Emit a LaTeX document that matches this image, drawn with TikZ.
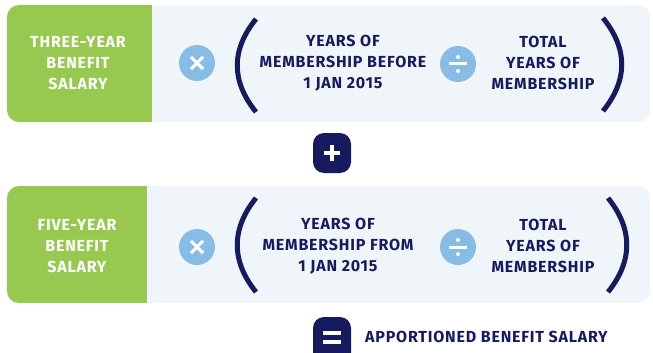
\documentclass[tikz,border=0pt]{standalone}
\usepackage{fontspec}
\usetikzlibrary{calc}
\newfontfamily\labelfont{Fira Sans}[LetterSpace=5]
\definecolor{navy}{HTML}{161B60}
\definecolor{leaf}{HTML}{97C950}
\definecolor{mist}{HTML}{F0F5FA}
\definecolor{sky}{HTML}{86BCE6}
\tikzset{
  panel/.style={fill=mist},
  opdisc/.style={circle, fill=sky, minimum size=36pt, inner sep=0pt},
  paren/.style={draw=navy, line width=5pt},
  term/.style={align=center, text=navy, font=\labelfont\bfseries\fontsize{16}{21}\selectfont, inner sep=0pt},
  factor/.style={align=center, text=white, font=\labelfont\bfseries\fontsize{16}{21}\selectfont, inner sep=0pt},
  joinbox/.style={fill=navy, rounded corners=11pt},
  glyph/.style={draw=white, line width=3pt},
}
\begin{document}
\begin{tikzpicture}[x=1pt, y=-1pt]
\useasboundingbox (0,0) rectangle (653,353);
\clip (0,0) rectangle (653,353);
\fill[white] (0,0) rectangle (653,353);

% ---- first row: three-year term ----
\begin{scope}
  \clip[rounded corners=12pt] (7,5) rectangle (650,122);
  \fill[panel] (7,5) rectangle (650,122);
  \fill[leaf] (7,5) rectangle (152,122);
\end{scope}
\node[factor] (f1) at (78,63) {THREE-YEAR\\BENEFIT\\SALARY};
\node[opdisc] (x1) at (197,63) {};
\draw[glyph] ($(x1)+(-6,-6)$) -- ($(x1)+(6,6)$) ($(x1)+(-6,6)$) -- ($(x1)+(6,-6)$);
\draw[paren] (256,19) .. controls (231,50) and (231,81) .. (256,112);
\node[term] (a1) at (343,63) {YEARS OF\\MEMBERSHIP BEFORE\\1 JAN 2015};
\node[opdisc] (d1) at (458,64) {};
\draw[glyph] ($(d1)+(-9,0)$) -- ($(d1)+(9,0)$);
\fill[white] ($(d1)+(0,-7)$) circle (2pt) ($(d1)+(0,7)$) circle (2pt);
\node[term] (t1) at (543,63) {TOTAL\\YEARS OF\\MEMBERSHIP};
\draw[paren] (603,18) .. controls (628,49) and (628,80) .. (603,111);

% ---- plus ----
\fill[joinbox] (313,133) rectangle (351,173);
\coordinate (plus) at (332,153);
\draw[glyph, line width=3.5pt] ($(plus)+(-8,0)$) -- ($(plus)+(8,0)$) ($(plus)+(0,-8)$) -- ($(plus)+(0,8)$);

% ---- second row: five-year term ----
\begin{scope}
  \clip[rounded corners=12pt] (7,186) rectangle (650,303);
  \fill[panel] (7,186) rectangle (650,303);
  \fill[leaf] (7,186) rectangle (147,303);
\end{scope}
\node[factor] (f2) at (77,246) {FIVE-YEAR\\BENEFIT\\SALARY};
\node[opdisc] (x2) at (197,247) {};
\draw[glyph] ($(x2)+(-6,-6)$) -- ($(x2)+(6,6)$) ($(x2)+(-6,6)$) -- ($(x2)+(6,-6)$);
\draw[paren] (256,198) .. controls (231,229) and (231,261) .. (256,292);
\node[term] (a2) at (338,246) {YEARS OF\\MEMBERSHIP FROM\\1 JAN 2015};
\node[opdisc] (d2) at (458,247) {};
\draw[glyph] ($(d2)+(-9,0)$) -- ($(d2)+(9,0)$);
\fill[white] ($(d2)+(0,-7)$) circle (2pt) ($(d2)+(0,7)$) circle (2pt);
\node[term] (t2) at (543,246) {TOTAL\\YEARS OF\\MEMBERSHIP};
\draw[paren] (608,198) .. controls (633,229) and (633,261) .. (608,292);

% ---- equals and result ----
\fill[joinbox] (313,317) rectangle (351,365);
\coordinate (eq) at (332,337);
\draw[glyph, line width=4pt] ($(eq)+(-9,-4.5)$) -- ($(eq)+(9,-4.5)$) ($(eq)+(-9,4.5)$) -- ($(eq)+(9,4.5)$);
\node[term, anchor=west] (res) at (365,337) {APPORTIONED BENEFIT SALARY};
\end{tikzpicture}
\end{document}
